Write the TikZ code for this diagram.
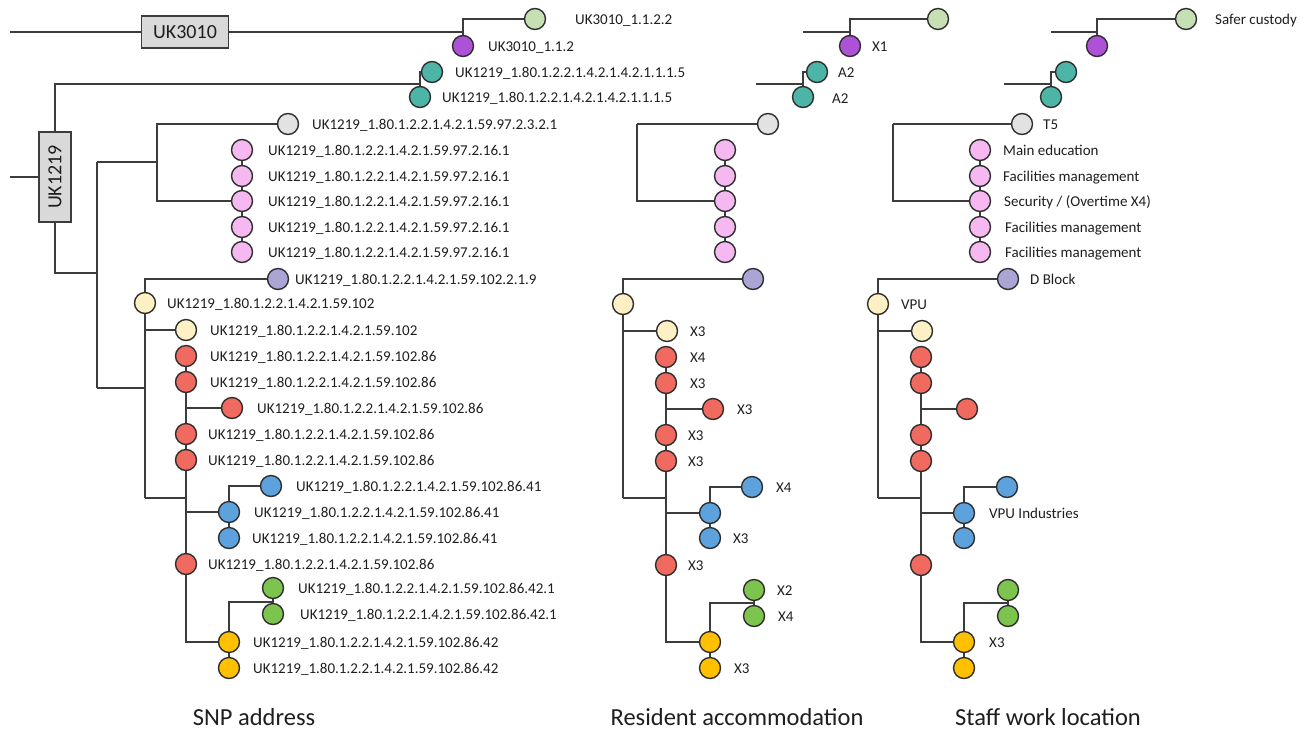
\documentclass[tikz,border=0pt]{standalone}
\usepackage{fontspec}
\setmainfont{Carlito}
\usetikzlibrary{backgrounds}
\definecolor{cLG}{HTML}{C6E0B4}
\definecolor{cPu}{HTML}{AD52D6}
\definecolor{cTe}{HTML}{4DB5A6}
\definecolor{cGr}{HTML}{E2E2E2}
\definecolor{cPk}{HTML}{F5B8F0}
\definecolor{cLv}{HTML}{ABA5D6}
\definecolor{cCr}{HTML}{FCF0C4}
\definecolor{cRd}{HTML}{F06A60}
\definecolor{cBl}{HTML}{5DA2DC}
\definecolor{cGn}{HTML}{7CC44E}
\definecolor{cOr}{HTML}{FFC000}
\definecolor{cBd}{HTML}{2E2E2E}
\definecolor{cLn}{HTML}{3C3C3C}
\definecolor{cTx}{HTML}{1E1E1E}
\definecolor{cBx}{HTML}{D9D9D9}
\begin{document}
\begin{tikzpicture}[x=1pt,y=-1pt,
  dot/.style={circle,draw=cBd,line width=1.4pt,minimum size=21pt,inner sep=0pt},
  lab/.style={anchor=base west,inner sep=0pt,font=\fontsize{15}{18}\selectfont,text=cTx},
  ttl/.style={anchor=base,inner sep=0pt,font=\fontsize{24.5}{28}\selectfont,text=cTx},
  gbox/.style={draw=cLn,fill=cBx,line width=1.2pt,inner sep=0pt,font=\fontsize{20}{23}\selectfont,text=cTx},
  edge/.style={draw=cLn,line width=1.6pt}]
\useasboundingbox (0,0) rectangle (1308,729);

% ================= SNP address =================
\node[gbox,minimum width=87pt,minimum height=32pt] (b3010) at (185,32) {UK3010};
\node[gbox,rotate=90,minimum width=90pt,minimum height=32pt] (b1219) at (55,177) {UK1219};
\coordinate (s1) at (10,32);
\coordinate (s2) at (10,177);
\node[dot,fill=cLG] (Lg0) at (535,19) {};
\node[dot,fill=cPu] (Lpu) at (463,46) {};
\coordinate (Lj0) at (463,32);
\node[dot,fill=cTe] (Lt1) at (432,72) {};
\node[dot,fill=cTe] (Lt2) at (420,97) {};
\coordinate (Ljt) at (420,84);
\node[dot,fill=cGr] (Lgr) at (288,124) {};
\foreach \i/\y in {1/150,2/176,3/201,4/227,5/252}{\node[dot,fill=cPk] (Lp\i) at (242,\y) {};}
\node[dot,fill=cLv] (Llv) at (278,279) {};
\node[dot,fill=cCr] (Lc1) at (145,303) {};
\node[dot,fill=cCr] (Lc2) at (186,330) {};
\node[dot,fill=cRd] (Lr1) at (186,356) {};
\node[dot,fill=cRd] (Lr2) at (186,382) {};
\node[dot,fill=cRd] (Lr3) at (232,408) {};
\node[dot,fill=cRd] (Lr4) at (186,434) {};
\node[dot,fill=cRd] (Lr5) at (186,460) {};
\node[dot,fill=cRd] (Lr6) at (186,564) {};
\node[dot,fill=cBl] (Lb1) at (271,486) {};
\node[dot,fill=cBl] (Lb2) at (229,512) {};
\node[dot,fill=cBl] (Lb3) at (229,538) {};
\node[dot,fill=cGn] (Ln1) at (273,588) {};
\node[dot,fill=cGn] (Ln2) at (273,614) {};
\node[dot,fill=cOr] (Lo1) at (229,642) {};
\node[dot,fill=cOr] (Lo2) at (229,668) {};
\coordinate (Lk1) at (97,273);
\coordinate (Lk2) at (97,162);
\coordinate (Lk3) at (97,388);
\coordinate (Lk4) at (157,162);
\coordinate (Lk5) at (145,388);
\coordinate (Lk6) at (145,498);
\coordinate (Lk7) at (186,498);
\coordinate (Lk8) at (145,330);
\coordinate (Lk9) at (186,408);
\coordinate (Lk10) at (186,512);
\coordinate (Lk11) at (273,602);

\node[lab] (La1) at (575,24) {UK3010\_1.1.2.2};
\node[lab] (La2) at (488,51) {UK3010\_1.1.2};
\node[lab] (La3) at (455,77) {UK1219\_1.80.1.2.2.1.4.2.1.4.2.1.1.1.5};
\node[lab] (La4) at (442,102) {UK1219\_1.80.1.2.2.1.4.2.1.4.2.1.1.1.5};
\node[lab] (La5) at (312,129) {UK1219\_1.80.1.2.2.1.4.2.1.59.97.2.3.2.1};
\foreach \i/\y in {1/155,2/181,3/206,4/232,5/257}{\node[lab] (Lpl\i) at (268,\y) {UK1219\_1.80.1.2.2.1.4.2.1.59.97.2.16.1};}
\node[lab] (La6) at (295,284) {UK1219\_1.80.1.2.2.1.4.2.1.59.102.2.1.9};
\node[lab] (La7) at (167,308) {UK1219\_1.80.1.2.2.1.4.2.1.59.102};
\node[lab] (La8) at (210,335) {UK1219\_1.80.1.2.2.1.4.2.1.59.102};
\node[lab] (La9) at (210,361) {UK1219\_1.80.1.2.2.1.4.2.1.59.102.86};
\node[lab] (La10) at (210,387) {UK1219\_1.80.1.2.2.1.4.2.1.59.102.86};
\node[lab] (La11) at (257,413) {UK1219\_1.80.1.2.2.1.4.2.1.59.102.86};
\node[lab] (La12) at (208,439) {UK1219\_1.80.1.2.2.1.4.2.1.59.102.86};
\node[lab] (La13) at (208,465) {UK1219\_1.80.1.2.2.1.4.2.1.59.102.86};
\node[lab] (La14) at (296,491) {UK1219\_1.80.1.2.2.1.4.2.1.59.102.86.41};
\node[lab] (La15) at (254,517) {UK1219\_1.80.1.2.2.1.4.2.1.59.102.86.41};
\node[lab] (La16) at (252,543) {UK1219\_1.80.1.2.2.1.4.2.1.59.102.86.41};
\node[lab] (La17) at (208,569) {UK1219\_1.80.1.2.2.1.4.2.1.59.102.86};
\node[lab] (La18) at (298,593) {UK1219\_1.80.1.2.2.1.4.2.1.59.102.86.42.1};
\node[lab] (La19) at (300,619) {UK1219\_1.80.1.2.2.1.4.2.1.59.102.86.42.1};
\node[lab] (La20) at (253,647) {UK1219\_1.80.1.2.2.1.4.2.1.59.102.86.42};
\node[lab] (La21) at (253,673) {UK1219\_1.80.1.2.2.1.4.2.1.59.102.86.42};

% ================= Resident accommodation =================
\coordinate (Ms1) at (803,32);
\coordinate (Mj0) at (850,32);
\node[dot,fill=cLG] (Mg0) at (938,19) {};
\node[dot,fill=cPu] (Mpu) at (850,46) {};
\coordinate (Ms2) at (756,84);
\coordinate (Mjt) at (803,84);
\node[dot,fill=cTe] (Mt1) at (817,72) {};
\node[dot,fill=cTe] (Mt2) at (803,97) {};
\node[dot,fill=cGr] (Mgr) at (768,124) {};
\foreach \i/\y in {1/150,2/176,3/201,4/227,5/252}{\node[dot,fill=cPk] (Mp\i) at (725,\y) {};}
\coordinate (Mk4) at (637,124);
\node[dot,fill=cLv] (Mlv) at (753,279) {};
\node[dot,fill=cCr] (Mc1) at (623,304) {};
\node[dot,fill=cCr] (Mc2) at (667,331) {};
\node[dot,fill=cRd] (Mr1) at (666,357) {};
\node[dot,fill=cRd] (Mr2) at (666,383) {};
\node[dot,fill=cRd] (Mr3) at (713,409) {};
\node[dot,fill=cRd] (Mr4) at (666,435) {};
\node[dot,fill=cRd] (Mr5) at (666,461) {};
\node[dot,fill=cRd] (Mr6) at (666,565) {};
\node[dot,fill=cBl] (Mb1) at (752,487) {};
\node[dot,fill=cBl] (Mb2) at (710,513) {};
\node[dot,fill=cBl] (Mb3) at (710,538) {};
\node[dot,fill=cGn] (Mn1) at (754,590) {};
\node[dot,fill=cGn] (Mn2) at (754,616) {};
\node[dot,fill=cOr] (Mo1) at (710,642) {};
\node[dot,fill=cOr] (Mo2) at (710,668) {};
\coordinate (Mk6) at (623,498);
\coordinate (Mk7) at (666,498);
\coordinate (Mk8) at (623,331);
\coordinate (Mk9) at (666,409);
\coordinate (Mk10) at (666,513);
\coordinate (Mk11) at (754,603);

\node[lab] (Ma1) at (872,51) {X1};
\node[lab] (Ma2) at (838,77) {A2};
\node[lab] (Ma3) at (832,103) {A2};
\node[lab] (Ma4) at (690,336) {X3};
\node[lab] (Ma5) at (690,362) {X4};
\node[lab] (Ma6) at (690,388) {X3};
\node[lab] (Ma7) at (737,414) {X3};
\node[lab] (Ma8) at (688,440) {X3};
\node[lab] (Ma9) at (688,466) {X3};
\node[lab] (Ma10) at (776,492) {X4};
\node[lab] (Ma11) at (733,543) {X3};
\node[lab] (Ma12) at (688,570) {X3};
\node[lab] (Ma13) at (777,595) {X2};
\node[lab] (Ma14) at (778,621) {X4};
\node[lab] (Ma15) at (734,673) {X3};

% ================= Staff work location =================
\coordinate (Rs1) at (1051,32);
\coordinate (Rj0) at (1097,32);
\node[dot,fill=cLG] (Rg0) at (1186,19) {};
\node[dot,fill=cPu] (Rpu) at (1097,46) {};
\coordinate (Rs2) at (1004,84);
\coordinate (Rjt) at (1051,84);
\node[dot,fill=cTe] (Rt1) at (1066,72) {};
\node[dot,fill=cTe] (Rt2) at (1051,97) {};
\node[dot,fill=cGr] (Rgr) at (1022,124) {};
\foreach \i/\y in {1/150,2/176,3/201,4/227,5/252}{\node[dot,fill=cPk] (Rp\i) at (980,\y) {};}
\coordinate (Rk4) at (893,124);
\node[dot,fill=cLv] (Rlv) at (1008,279) {};
\node[dot,fill=cCr] (Rc1) at (878,304) {};
\node[dot,fill=cCr] (Rc2) at (922,331) {};
\node[dot,fill=cRd] (Rr1) at (921,357) {};
\node[dot,fill=cRd] (Rr2) at (921,383) {};
\node[dot,fill=cRd] (Rr3) at (967,409) {};
\node[dot,fill=cRd] (Rr4) at (921,435) {};
\node[dot,fill=cRd] (Rr5) at (921,461) {};
\node[dot,fill=cRd] (Rr6) at (921,565) {};
\node[dot,fill=cBl] (Rb1) at (1007,487) {};
\node[dot,fill=cBl] (Rb2) at (964,513) {};
\node[dot,fill=cBl] (Rb3) at (964,538) {};
\node[dot,fill=cGn] (Rn1) at (1008,590) {};
\node[dot,fill=cGn] (Rn2) at (1008,616) {};
\node[dot,fill=cOr] (Ro1) at (964,642) {};
\node[dot,fill=cOr] (Ro2) at (964,668) {};
\coordinate (Rk6) at (878,498);
\coordinate (Rk7) at (921,498);
\coordinate (Rk8) at (878,331);
\coordinate (Rk9) at (921,409);
\coordinate (Rk10) at (921,513);
\coordinate (Rk11) at (1008,603);

\node[lab] (Ra1) at (1215,24) {Safer custody};
\node[lab] (Ra2) at (1043,129) {T5};
\node[lab] (Ra3) at (1003,155) {Main education};
\node[lab] (Ra4) at (1003,181) {Facilities management};
\node[lab] (Ra5) at (1004,206) {Security / (Overtime X4)};
\node[lab] (Ra6) at (1005,232) {Facilities management};
\node[lab] (Ra7) at (1005,257) {Facilities management};
\node[lab] (Ra8) at (1030,284) {D Block};
\node[lab] (Ra9) at (901,309) {VPU};
\node[lab] (Ra10) at (989,518) {VPU Industries};
\node[lab] (Ra11) at (989,647) {X3};

% ================= titles =================
\node[ttl] (T1) at (254,725) {SNP address};
\node[ttl] (T2) at (737,725) {Resident accommodation};
\node[ttl] (T3) at (1048,725) {Staff work location};

% ================= connectors =================
\begin{scope}[on background layer]
  % left
  \draw[edge] (s1) -- (b3010);
  \draw[edge] (b3010) -- (Lj0);
  \draw[edge] (Lj0) -- (Lpu);
  \draw[edge] (Lj0) |- (Lg0);
  \draw[edge] (s2) -- (b1219);
  \draw[edge] (b1219) |- (Ljt);
  \draw[edge] (Ljt) |- (Lt1);
  \draw[edge] (Ljt) -- (Lt2);
  \draw[edge] (b1219) |- (Lk1);
  \draw[edge] (Lk2) -- (Lk3);
  \draw[edge] (Lk2) -- (Lk4);
  \draw[edge] (Lk4) |- (Lgr);
  \draw[edge] (Lk4) |- (Lp3);
  \draw[edge] (Lp1) -- (Lp2);
  \draw[edge] (Lp2) -- (Lp3);
  \draw[edge] (Lp3) -- (Lp4);
  \draw[edge] (Lp4) -- (Lp5);
  \draw[edge] (Lk3) -- (Lk5);
  \draw[edge] (Lc1) |- (Llv);
  \draw[edge] (Lc1) -- (Lk6);
  \draw[edge] (Lk8) -- (Lc2);
  \draw[edge] (Lk6) -- (Lk7);
  \draw[edge] (Lr1) -- (Lr2);
  \draw[edge] (Lr2) -- (Lr4);
  \draw[edge] (Lk9) -- (Lr3);
  \draw[edge] (Lr4) -- (Lr5);
  \draw[edge] (Lr5) -- (Lr6);
  \draw[edge] (Lk10) -- (Lb2);
  \draw[edge] (Lb2) |- (Lb1);
  \draw[edge] (Lb2) -- (Lb3);
  \draw[edge] (Lr6) |- (Lo1);
  \draw[edge] (Lo1) |- (Lk11);
  \draw[edge] (Ln1) -- (Ln2);
  \draw[edge] (Lo1) -- (Lo2);
  % middle
  \draw[edge] (Ms1) -- (Mj0);
  \draw[edge] (Mj0) -- (Mpu);
  \draw[edge] (Mj0) |- (Mg0);
  \draw[edge] (Ms2) -- (Mjt);
  \draw[edge] (Mjt) |- (Mt1);
  \draw[edge] (Mjt) -- (Mt2);
  \draw[edge] (Mk4) -- (Mgr);
  \draw[edge] (Mk4) |- (Mp3);
  \draw[edge] (Mp1) -- (Mp2);
  \draw[edge] (Mp2) -- (Mp3);
  \draw[edge] (Mp3) -- (Mp4);
  \draw[edge] (Mp4) -- (Mp5);
  \draw[edge] (Mc1) |- (Mlv);
  \draw[edge] (Mc1) -- (Mk6);
  \draw[edge] (Mk8) -- (Mc2);
  \draw[edge] (Mk6) -- (Mk7);
  \draw[edge] (Mr1) -- (Mr2);
  \draw[edge] (Mr2) -- (Mr4);
  \draw[edge] (Mk9) -- (Mr3);
  \draw[edge] (Mr4) -- (Mr5);
  \draw[edge] (Mr5) -- (Mr6);
  \draw[edge] (Mk10) -- (Mb2);
  \draw[edge] (Mb2) |- (Mb1);
  \draw[edge] (Mb2) -- (Mb3);
  \draw[edge] (Mr6) |- (Mo1);
  \draw[edge] (Mo1) |- (Mk11);
  \draw[edge] (Mn1) -- (Mn2);
  \draw[edge] (Mo1) -- (Mo2);
  % right
  \draw[edge] (Rs1) -- (Rj0);
  \draw[edge] (Rj0) -- (Rpu);
  \draw[edge] (Rj0) |- (Rg0);
  \draw[edge] (Rs2) -- (Rjt);
  \draw[edge] (Rjt) |- (Rt1);
  \draw[edge] (Rjt) -- (Rt2);
  \draw[edge] (Rk4) -- (Rgr);
  \draw[edge] (Rk4) |- (Rp3);
  \draw[edge] (Rp1) -- (Rp2);
  \draw[edge] (Rp2) -- (Rp3);
  \draw[edge] (Rp3) -- (Rp4);
  \draw[edge] (Rp4) -- (Rp5);
  \draw[edge] (Rc1) |- (Rlv);
  \draw[edge] (Rc1) -- (Rk6);
  \draw[edge] (Rk8) -- (Rc2);
  \draw[edge] (Rk6) -- (Rk7);
  \draw[edge] (Rr1) -- (Rr2);
  \draw[edge] (Rr2) -- (Rr4);
  \draw[edge] (Rk9) -- (Rr3);
  \draw[edge] (Rr4) -- (Rr5);
  \draw[edge] (Rr5) -- (Rr6);
  \draw[edge] (Rk10) -- (Rb2);
  \draw[edge] (Rb2) |- (Rb1);
  \draw[edge] (Rb2) -- (Rb3);
  \draw[edge] (Rr6) |- (Ro1);
  \draw[edge] (Ro1) |- (Rk11);
  \draw[edge] (Rn1) -- (Rn2);
  \draw[edge] (Ro1) -- (Ro2);
\end{scope}
\end{tikzpicture}
\end{document}
